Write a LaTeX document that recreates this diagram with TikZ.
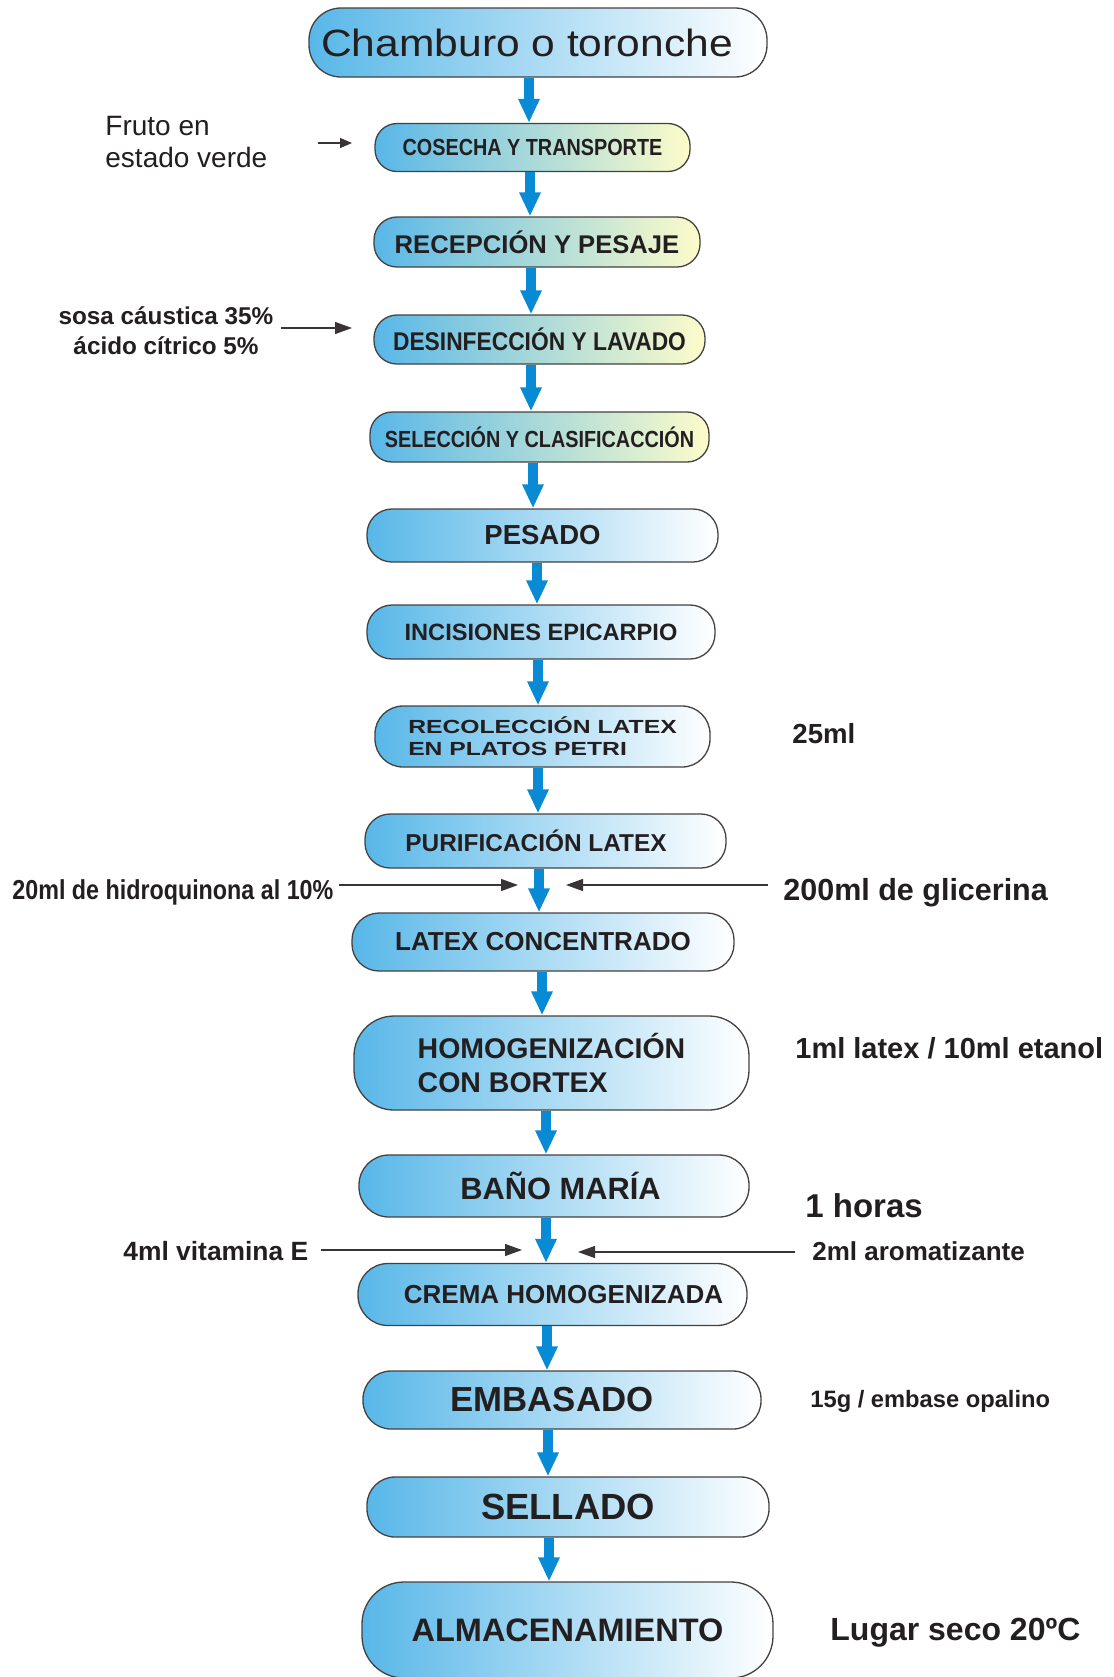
\documentclass[tikz,border=0pt]{standalone}
\usepackage{fontspec}
\setmainfont{Liberation Sans}
\newfontfamily\narrowfont[FakeStretch=0.85]{Liberation Sans}
\newfontfamily\semifont[FakeStretch=0.89]{Liberation Sans}
\newfontfamily\widefont[FakeStretch=1.3]{Liberation Sans}
\newfontfamily\chamfont[FakeStretch=1.12]{Liberation Sans}
\usetikzlibrary{arrows.meta,calc}
\newlength\upx
\setlength\upx{0.5pt}
\newcommand\fsz[2]{\fontsize{#1}{#2}\selectfont}
\definecolor{boxblue}{RGB}{88,183,232}
\definecolor{boxteal}{RGB}{168,217,224}
\definecolor{boxyellow}{RGB}{253,252,202}
\definecolor{flowblue}{RGB}{8,138,212}
\definecolor{ink}{RGB}{35,31,32}
\tikzset{
  stage/.style={draw=ink!85, line width=0.65pt, left color=boxblue, right color=white,
    text=ink, inner sep=0pt, align=center},
  ystage/.style={stage, left color=boxblue, middle color=boxteal, right color=boxyellow},
  flow/.style={draw=flowblue, line width=4.8pt, -{Triangle[length=12pt,width=10pt]}},
  side/.style={draw=ink!90, line width=0.65pt, -{Triangle[length=8.5pt,width=6pt]}},
  note/.style={inner sep=0pt, text=ink},
}
\begin{document}
\begin{tikzpicture}[x=0.5pt,y=-0.5pt]
\path[use as bounding box] (0,0) rectangle (1114,1677);
\clip (0,0) rectangle (1114,1677);
\fill[white] (0,0) rectangle (1114,1677);

% main stages
\node[stage, minimum width=458\upx, minimum height=69\upx, rounded corners=32\upx,
  font=\chamfont\fsz{19}{22}] (cham) at (538,42.5) {\hspace*{-22\upx}Chamburo o toronche};
\node[ystage, minimum width=315\upx, minimum height=48\upx, rounded corners=22\upx,
  font=\narrowfont\bfseries\fsz{11.65}{14}] (cosecha) at (532.5,147.5) {COSECHA Y TRANSPORTE};
\node[ystage, minimum width=326\upx, minimum height=50\upx, rounded corners=23\upx,
  font=\bfseries\fsz{12.8}{15}] (recep) at (537,242) {RECEPCIÓN Y PESAJE};
\node[ystage, minimum width=331\upx, minimum height=49\upx, rounded corners=23\upx,
  font=\semifont\bfseries\fsz{12.8}{15}] (desinf) at (539.5,339.5) {DESINFECCIÓN Y LAVADO};
\node[ystage, minimum width=339\upx, minimum height=50\upx, rounded corners=22\upx,
  font=\narrowfont\bfseries\fsz{11.65}{14}] (selec) at (539.5,437) {SELECCIÓN Y CLASIFICACCIÓN};
\node[stage, minimum width=351\upx, minimum height=53\upx, rounded corners=25\upx,
  font=\bfseries\fsz{13.75}{16}] (pesado) at (542.5,535.5) {PESADO};
\node[stage, minimum width=348\upx, minimum height=54\upx, rounded corners=25\upx,
  font=\bfseries\fsz{11.8}{14}] (incis) at (541,632) {INCISIONES EPICARPIO};
\node[stage, minimum width=335\upx, minimum height=61\upx, rounded corners=28\upx, align=left,
  font=\widefont\bfseries\fsz{9.5}{11}] (recol) at (542.5,736.5) {RECOLECCIÓN LATEX\\EN PLATOS PETRI};
\node[stage, minimum width=361\upx, minimum height=54\upx, rounded corners=25\upx,
  font=\bfseries\fsz{12.2}{14}] (purif) at (545.5,841) {\hspace*{-19\upx}PURIFICACIÓN LATEX};
\node[stage, minimum width=382\upx, minimum height=58\upx, rounded corners=27\upx,
  font=\bfseries\fsz{13}{15}] (latexc) at (543,942) {LATEX CONCENTRADO};
\node[stage, minimum width=395\upx, minimum height=94\upx, rounded corners=40\upx, align=left,
  font=\bfseries\fsz{14.25}{17}] (homog) at (551.5,1063) {HOMOGENIZACIÓN\\CON BORTEX};
\node[stage, minimum width=390\upx, minimum height=62\upx, rounded corners=30\upx,
  font=\bfseries\fsz{15.4}{18}] (bano) at (554,1186) {\hspace*{13\upx}BAÑO MARÍA};
\node[stage, minimum width=389\upx, minimum height=62\upx, rounded corners=30\upx,
  font=\bfseries\fsz{13}{15}] (crema) at (552.5,1294.5) {\hspace*{22\upx}CREMA HOMOGENIZADA};
\node[stage, minimum width=398\upx, minimum height=58\upx, rounded corners=28\upx,
  font=\bfseries\fsz{17.4}{20}] (embas) at (562,1400) {\hspace*{-20\upx}EMBASADO};
\node[stage, minimum width=402\upx, minimum height=60\upx, rounded corners=28\upx,
  font=\bfseries\fsz{18.2}{21}] (sellado) at (568,1507) {SELLADO};
\node[stage, minimum width=411\upx, minimum height=96\upx, rounded corners=42\upx,
  font=\bfseries\fsz{16.25}{19}] (almac) at (567.5,1630) {ALMACENAMIENTO};

% flow arrows
\draw[flow] (cham.south -| 529,0) -- (cosecha.north -| 529,0);
\draw[flow] (cosecha.south -| 530,0) -- (recep.north -| 530,0);
\draw[flow] (recep.south -| 531,0) -- (desinf.north -| 531,0);
\draw[flow] (desinf.south -| 531,0) -- (selec.north -| 531,0);
\draw[flow] (selec.south -| 533,0) -- (pesado.north -| 533,0);
\draw[flow] (pesado.south -| 537,0) -- (incis.north -| 537,0);
\draw[flow] (incis.south -| 538,0) -- (recol.north -| 538,0);
\draw[flow] (recol.south -| 538,0) -- (purif.north -| 538,0);
\draw[flow] (purif.south -| 539,0) -- (latexc.north -| 539,0);
\draw[flow] (latexc.south -| 542,0) -- (homog.north -| 542,0);
\draw[flow] (homog.south -| 546,0) -- (bano.north -| 546,0);
\draw[flow] (bano.south -| 546,0) -- (crema.north -| 546,0);
\draw[flow] (crema.south -| 547,0) -- (embas.north -| 547,0);
\draw[flow] (embas.south -| 548,0) -- (sellado.north -| 548,0);
\draw[flow] (sellado.south -| 549,0) -- (almac.north -| 549,0);

% side notes
\node[note, anchor=west, align=left, font=\fsz{14}{16}] (fruto) at (105,142) {Fruto en\\estado verde};
\node[note, anchor=center, align=center, font=\bfseries\fsz{12.15}{15}] (sosa) at (166,331) {sosa cáustica 35\%\\ácido cítrico 5\%};
\node[note, anchor=base west, font=\bfseries\fsz{13.8}{16}] (ml25) at (792,743) {25ml};
\node[note, anchor=base west, font=\narrowfont\bfseries\fsz{13.7}{16}] (hidro) at (12,899) {20ml de hidroquinona al 10\%};
\node[note, anchor=base west, font=\bfseries\fsz{15.25}{18}] (glic) at (783,900) {200ml de glicerina};
\node[note, anchor=base west, font=\bfseries\fsz{14.5}{17}] (etanol) at (795,1058) {1ml latex / 10ml etanol};
\node[note, anchor=base west, font=\bfseries\fsz{16.5}{19}] (horas) at (805,1217) {1 horas};
\node[note, anchor=base west, font=\bfseries\fsz{13.2}{15}] (vit) at (123,1260) {4ml vitamina E};
\node[note, anchor=base west, font=\bfseries\fsz{13}{15}] (arom) at (812,1260) {2ml aromatizante};
\node[note, anchor=base west, font=\bfseries\fsz{11.85}{14}] (envase) at (810,1407) {15g / embase opalino};
\node[note, anchor=base west, font=\bfseries\fsz{16}{19}] (lugar) at (830,1640) {Lugar seco 20ºC};

% side arrow tips
\coordinate (frutoE) at (352,143);
\coordinate (sosaE) at (352,328);
\coordinate (hidroE) at (518,885);
\coordinate (glicE) at (566,885);
\coordinate (vitE) at (522,1250);
\coordinate (aromE) at (578,1252);

\draw[side, -{Triangle[length=6pt,width=5pt]}] ([xshift=25pt]fruto.east |- frutoE) -- (frutoE);
\draw[side] ([xshift=3.5pt]sosa.east |- sosaE) -- (sosaE);
\draw[side] ([xshift=2.5pt]hidro.east |- hidroE) -- (hidroE);
\draw[side] ([xshift=-7.5pt]glic.west |- glicE) -- (glicE);
\draw[side] ([xshift=6pt]vit.east |- vitE) -- (vitE);
\draw[side] ([xshift=-8.5pt]arom.west |- aromE) -- (aromE);
\end{tikzpicture}
\end{document}
